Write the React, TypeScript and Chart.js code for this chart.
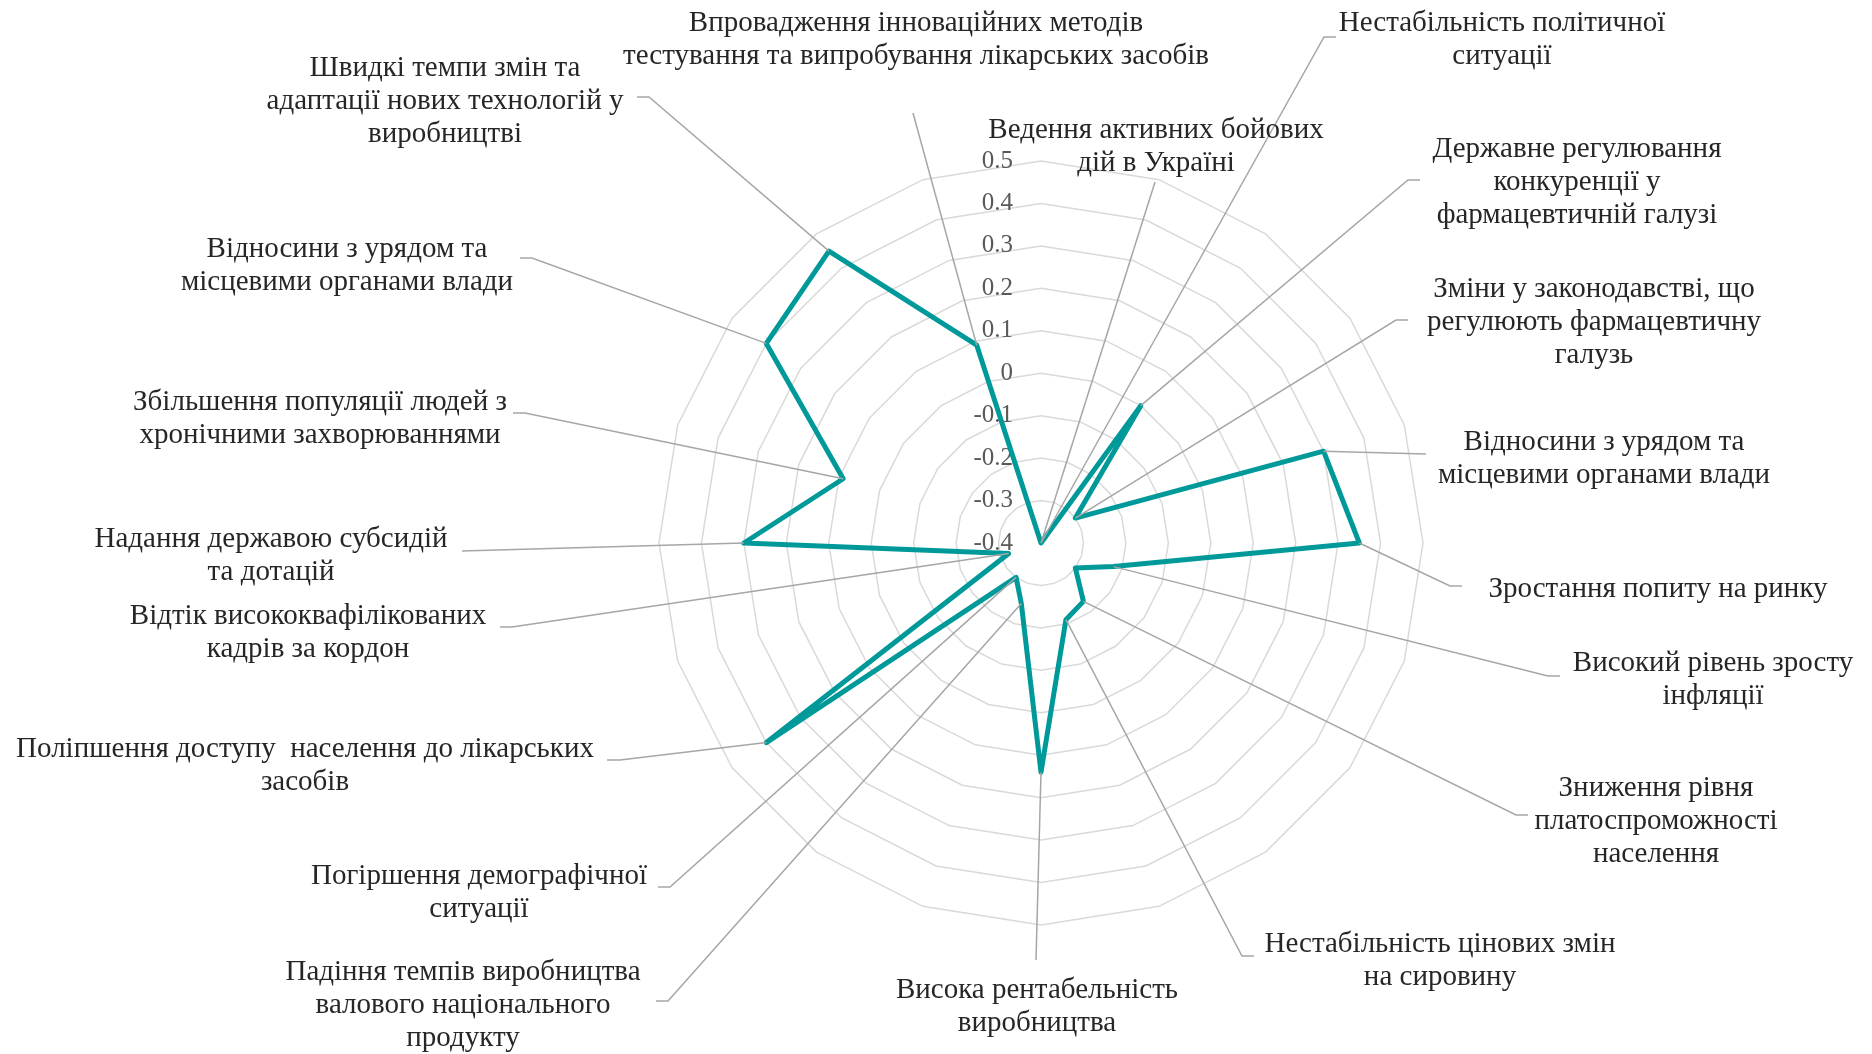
import React, { useEffect, useRef } from 'react';
import { Chart, registerables } from 'chart.js';

Chart.register(...registerables);

// ---- data ----
const categoryLines: string[][] = [
  ['Ведення активних бойових', 'дій в Україні'],
  ['Нестабільність політичної', 'ситуації'],
  ['Державне регулювання', 'конкуренції у', 'фармацевтичній галузі'],
  ['Зміни у законодавстві, що', 'регулюють фармацевтичну', 'галузь'],
  ['Відносини з урядом та', 'місцевими органами влади'],
  ['Зростання попиту на ринку'],
  ['Високий рівень зросту', 'інфляції'],
  [],
  ['Зниження рівня', 'платоспроможності', 'населення'],
  ['Нестабільність цінових змін', 'на сировину'],
  ['Висока рентабельність', 'виробництва'],
  ['Падіння темпів виробництва', 'валового національного', 'продукту'],
  ['Погіршення демографічної', 'ситуації'],
  ['Поліпшення доступу  населення до лікарських', 'засобів'],
  ['Відтік висококвафілікованих', 'кадрів за кордон'],
  ['Надання державою субсидій', 'та дотацій'],
  ['Збільшення популяції людей з', 'хронічними захворюваннями'],
  ['Відносини з урядом та', 'місцевими органами влади'],
  ['Швидкі темпи змін та', 'адаптації нових технологій у', 'виробництві'],
  ['Впровадження інноваційних методів', 'тестування та випробування лікарських засобів'],
];

const values: number[] = [
  -0.4, -0.4, 0.0, -0.3, 0.3, 0.35, -0.22, -0.3, -0.23, -0.21,
  0.14, -0.25, -0.3, 0.4, -0.32, 0.3, 0.09, 0.4, 0.45, 0.09,
];

const tickLabels: string[] = ['-0.4', '-0.3', '-0.2', '-0.1', '0', '0.1', '0.2', '0.3', '0.4', '0.5'];

// ---- layout of the moved data labels (x centre, first line y, leader path) ----
type LabelLayout = { x: number; y: number; leader: number[][] } | null;
const labelLayout: LabelLayout[] = [
  { x: 1156, y: 130, leader: [[1155, 182]] },
  { x: 1502, y: 23, leader: [[1336, 37], [1324, 37]] },
  { x: 1577, y: 149, leader: [[1420, 180], [1408, 180]] },
  { x: 1594, y: 289, leader: [[1408, 320], [1396, 320]] },
  { x: 1604, y: 442, leader: [[1426, 454]] },
  { x: 1658, y: 589, leader: [[1462, 586], [1450, 586]] },
  { x: 1713, y: 663, leader: [[1560, 676], [1548, 676]] },
  null,
  { x: 1656, y: 788, leader: [[1528, 815], [1516, 815]] },
  { x: 1440, y: 944, leader: [[1254, 956], [1242, 956]] },
  { x: 1037, y: 990, leader: [[1036, 960]] },
  { x: 463, y: 972, leader: [[656, 1001], [668, 1001]] },
  { x: 479, y: 876, leader: [[658, 887], [670, 887]] },
  { x: 305, y: 749, leader: [[607, 760], [620, 760]] },
  { x: 308, y: 616, leader: [[500, 627], [512, 627]] },
  { x: 271, y: 539, leader: [[462, 551]] },
  { x: 320, y: 402, leader: [[513, 413], [525, 413]] },
  { x: 347, y: 249, leader: [[520, 258], [532, 258]] },
  { x: 445, y: 68, leader: [[637, 97], [649, 97]] },
  { x: 916, y: 23, leader: [[913, 113]] },
];

const FONT = '"Liberation Serif", "Times New Roman", serif';
const LINE_H = 33;

const tickPlugin = {
  id: 'tickText',
  beforeDatasetsDraw(chart: any) {
    const scale = chart.scales.r;
    const ctx = chart.ctx;
    ctx.save();
    ctx.font = `25px ${FONT}`;
    ctx.fillStyle = '#595959';
    ctx.textAlign = 'right';
    ctx.textBaseline = 'middle';
    tickLabels.forEach((t) => {
      const d = scale.getDistanceFromCenterForValue(parseFloat(t));
      ctx.fillText(t, scale.xCenter - 28, scale.yCenter - d);
    });
    ctx.restore();
  },
};

const labelPlugin = {
  id: 'catLabels',
  afterDatasetsDraw(chart: any) {
    const ctx = chart.ctx;
    const pts = chart.getDatasetMeta(0).data;
    ctx.save();
    ctx.strokeStyle = '#a6a6a6';
    ctx.lineWidth = 1.5;
    labelLayout.forEach((lay, i) => {
      if (!lay) return;
      const p = pts[i];
      ctx.beginPath();
      ctx.moveTo(lay.leader[0][0], lay.leader[0][1]);
      for (let k = 1; k < lay.leader.length; k++) ctx.lineTo(lay.leader[k][0], lay.leader[k][1]);
      ctx.lineTo(p.x, p.y);
      ctx.stroke();
    });
    ctx.font = `29px ${FONT}`;
    ctx.fillStyle = '#262626';
    ctx.textAlign = 'center';
    ctx.textBaseline = 'middle';
    labelLayout.forEach((lay, i) => {
      if (!lay) return;
      categoryLines[i].forEach((line, j) => {
        ctx.fillText(line, lay.x, lay.y + j * LINE_H);
      });
    });
    ctx.restore();
  },
};

export default function App() {
  const ref = useRef<HTMLCanvasElement | null>(null);
  useEffect(() => {
    if (!ref.current) return;
    const chart = new Chart(ref.current, {
      type: 'radar',
      data: {
        labels: categoryLines.map((l) => l.join(' ')),
        datasets: [
          {
            data: values,
            borderColor: '#009999',
            backgroundColor: 'rgba(0,0,0,0)',
            borderWidth: 5,
            borderJoinStyle: 'round',
            pointRadius: 0,
            pointHoverRadius: 0,
            fill: false,
            tension: 0,
          },
        ],
      },
      options: {
        responsive: false,
        animation: false,
        devicePixelRatio: 1,
        layout: { padding: { left: 659, right: 449, top: 161, bottom: 129 } },
        plugins: { legend: { display: false }, tooltip: { enabled: false } },
        scales: {
          r: {
            min: -0.4,
            max: 0.5,
            ticks: { display: false, stepSize: 0.1 },
            pointLabels: { display: false },
            angleLines: { display: false },
            grid: { color: '#d9d9d9', lineWidth: 1.5 },
          },
        },
      } as any,
      plugins: [tickPlugin, labelPlugin],
    });
    return () => chart.destroy();
  }, []);
  return (
    <canvas
      ref={ref}
      width={1872}
      height={1054}
      style={{ position: 'absolute', left: 0, top: 0, display: 'block', background: '#ffffff' }}
    />
  );
}
